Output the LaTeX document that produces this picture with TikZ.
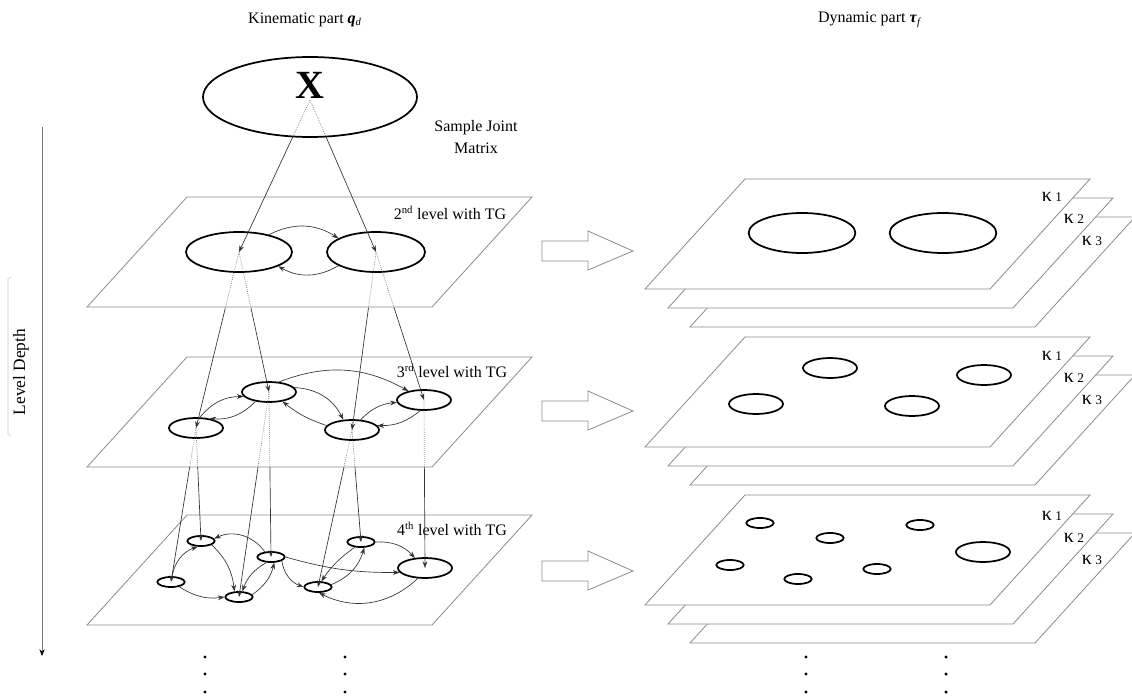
\documentclass[tikz,border=0pt]{standalone}
\usepackage{fontspec}
\setmainfont{Liberation Serif}
\usetikzlibrary{shapes.geometric,arrows.meta,calc}
\newcommand\hconn[3]{%
  \draw[hid] (#1.center) -- ($(#1)!#3!(#2)$);
  \draw[conn] ($(#1)!#3!(#2)$) -- (#2.center);}
\begin{document}
\begin{tikzpicture}[x=0.75pt,y=-0.75pt,
  plane/.style={draw=black!45,fill=white,line width=0.6pt},
  bigarrow/.style={draw=black!45,fill=white,line width=0.6pt},
  ell/.style={ellipse,draw=black,line width=1.3pt,inner sep=0pt},
  ellb/.style={ell,minimum width=80pt,minimum height=30pt},
  ellm/.style={ell,minimum width=40.5pt,minimum height=15pt},
  ells/.style={ell,minimum width=20.5pt,minimum height=7.5pt},
  conn/.style={draw=black!80,line width=0.5pt,-{Stealth[length=5pt,width=3.6pt]}},
  hid/.style={draw=black!60,line width=0.5pt,densely dotted},
  lbl/.style={font=\fontsize{12}{16.5}\selectfont,inner sep=0pt},
  kap/.style={font=\fontsize{15}{15}\selectfont,inner sep=0pt},
]
\useasboundingbox (0,0) rectangle (1132,696);

% ---------- left planes ----------
\foreach \t in {197,357,515}
  \draw[plane] (187,\t) -- (532,\t) -- (432,\t+110) -- (87,\t+110) -- cycle;

% ---------- right stacks ----------
\foreach \t in {179,337,495}{
  \foreach \d/\e in {45/38,23/19,0/0}
    \draw[plane] (745+\d,\t+\e) -- (1090+\d,\t+\e) -- (990+\d,\t+\e+110) -- (645+\d,\t+\e+110) -- cycle;
}

% ---------- hollow arrows ----------
\foreach \y in {251,411,571}
  \draw[bigarrow] (542,\y-10) -- (588,\y-10) -- (588,\y-20) -- (633,\y) -- (588,\y+19) -- (588,\y+10) -- (542,\y+10) -- cycle;

% ---------- titles ----------
\node[lbl] (kin) at (305,20) {Kinematic part \textbf{\textit{q}}\textsubscript{\textit{d}}};
\node[lbl] (dyn) at (870,20) {Dynamic part \textbf{\textit{τ}}\textsubscript{\textit{f}}};
\node[lbl,align=center] (sjm) at (476,137) {Sample Joint\\Matrix};
\node[lbl] (lv2) at (450,213) {2\textsuperscript{nd} level with TG};
\node[lbl] (lv3) at (452,371) {3\textsuperscript{rd} level with TG};
\node[lbl] (lv4) at (452,529) {4\textsuperscript{th} level with TG};

% ---------- level depth axis ----------
\draw[gray!25,line width=0.8pt] (11,277) -- (8,279) -- (8,434) -- (11,436);
\node[lbl,rotate=90,font=\fontsize{13}{15}\selectfont] (ld) at (21,372) {Level Depth};
\coordinate (ax1) at (42,127);
\coordinate (ax2) at (42,656);
\draw[draw=black!55,line width=0.6pt,-{Stealth[length=5pt,width=4pt,color=black]}] (ax1) -- (ax2);

% ---------- kappa labels ----------
\foreach \t/\n in {0/a,159/b,319/c}{
  \node[kap] (k1\n) at (1052,197+\t) {κ\,{\fontsize{10}{10}\selectfont 1}};
  \node[kap] (k2\n) at (1074,219+\t) {κ\,{\fontsize{10}{10}\selectfont 2}};
  \node[kap] (k3\n) at (1092,241+\t) {κ\,{\fontsize{10}{10}\selectfont 3}};
}

% ---------- X node ----------
\node[ell,minimum width=160.5pt,minimum height=60pt] (X) at (310,97) {};
\node[font=\fontsize{30}{30}\selectfont\bfseries,inner sep=0pt] (Xt) at (310,85) {X};
\coordinate (xs) at (310,100);

% ---------- 2nd level ----------
\node[ell,minimum width=79.5pt,minimum height=30pt] (a1) at (239,252) {};
\node[ell,minimum width=73.5pt,minimum height=30pt] (a2) at (376,252) {};

% ---------- 3rd level ----------
\node[ellm] (b1) at (196,428) {};
\node[ellm] (b2) at (269,392) {};
\node[ellm] (b3) at (352,430) {};
\node[ellm] (b4) at (424,400) {};

% ---------- 4th level ----------
\node[ells] (c1) at (201,541) {};
\node[ells] (c2) at (171,582) {};
\node[ells] (c3) at (239,597) {};
\node[ells] (c4) at (271,557) {};
\node[ells] (c5) at (318,587) {};
\node[ells] (c6) at (361,542) {};
\node[ellm] (c7) at (425,568) {};

% ---------- vertical connectors ----------
\hconn{xs}{a1}{0.24}
\hconn{xs}{a2}{0.24}
\hconn{a1}{b1}{0.318}
\hconn{a1}{b2}{0.40}
\hconn{a2}{b3}{0.315}
\hconn{a2}{b4}{0.378}
\hconn{b1}{c2}{0.253}
\hconn{b1}{c1}{0.345}
\hconn{b2}{c3}{0.366}
\hconn{b2}{c4}{0.455}
\hconn{b3}{c5}{0.236}
\hconn{b3}{c6}{0.33}
\hconn{b4}{c7}{0.40}

% ---------- 2nd level TG ----------
\draw[conn] (a1.30) to[bend left=30] (a2.160);
\draw[conn] (a2.200) to[bend left=30] (a1.-20);

% ---------- 3rd level TG ----------
\draw[conn] (b1.70) to[bend left=25] (b2.190);
\draw[conn] (b2.215) to[bend left=25] (b1.35);
\draw[conn] (b2.10) to[bend left=30] (b3.130);
\draw[conn] (b3.170) to[bend left=10] (b2.-35);
\draw[conn] (b2.45) to[bend left=25] (b4.150);
\draw[conn] (b3.50) to[bend left=20] (b4.185);
\draw[conn] (b4.-110) to[bend left=20] (b3.10);

% ---------- 4th level TG ----------
\draw[conn] (c2.80) to[bend left=30] (c1.240);
\draw[conn] (c1.-20) to[bend left=20] (c3.130);
\draw[conn] (c2.-30) to[bend right=20] (c3.180);
\draw[conn] (c4.140) to[bend right=40] (c1.10);
\draw[conn] (c4.230) to[bend right=20] (c3.60);
\draw[conn] (c3.10) to[bend right=20] (c4.-60);
\draw[conn] (c4.-20) to[bend right=30] (c5.180);
\draw[conn] (c4.0) to[bend right=8] (c7.190);
\draw[conn] (c5.10) to[bend right=25] (c6.-60);
\draw[conn] (c6.220) to[bend right=10] (c5.60);
\draw[conn] (c6.0) to[bend left=25] (c7.135);
\draw[conn] (c7.235) to[bend left=35] (c5.-80);

% ---------- right side ellipses ----------
\node[ellb] (r1a) at (802,233) {};
\node[ellb] (r1b) at (943,233) {};
\node[ellm] (r2a) at (830,368) {};
\node[ellm] (r2b) at (756,404) {};
\node[ellm] (r2c) at (912,406) {};
\node[ellm] (r2d) at (984,375) {};
\node[ells] (r3a) at (760,523) {};
\node[ells] (r3b) at (830,538) {};
\node[ells] (r3c) at (920,525) {};
\node[ellm] (r3d) at (983,552) {};
\node[ells] (r3e) at (730,565) {};
\node[ells] (r3f) at (798,579) {};
\node[ells] (r3g) at (877,569) {};

% ---------- continuation dots ----------
\foreach \x in {205,345,806,946}
  \foreach \y in {657,674,692}
    \fill (\x,\y) circle[radius=1.3pt];
\end{tikzpicture}
\end{document}
